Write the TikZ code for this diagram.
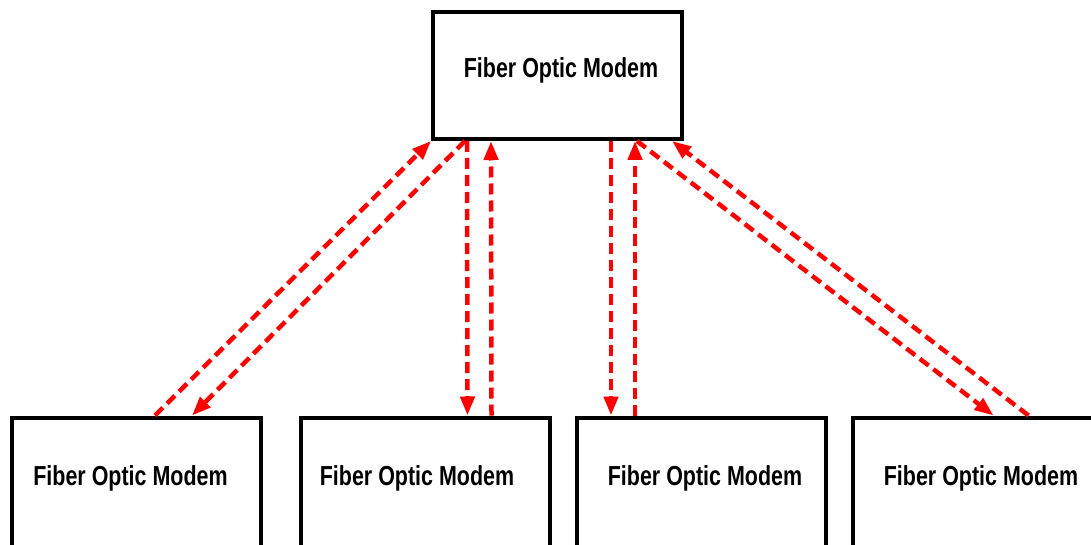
\documentclass[tikz,border=0pt]{standalone}
\usepackage{fontspec}
\newfontfamily\modemfont{Liberation Sans}[FakeStretch=0.78]
\usepackage{xcolor}
\usepackage{tikz}
\usetikzlibrary{positioning,arrows.meta}
\definecolor{clink}{RGB}{255,0,0}

\begin{document}
\begin{tikzpicture}[x=1pt,y=1pt,
  font=\modemfont\bfseries\fontsize{27.5pt}{30pt}\selectfont,
  box/.style={rectangle,draw=black,line width=4pt,minimum width=249pt},
  lbl/.style={inner sep=0pt},
  a/.style={-{Triangle[length=19pt,width=14pt]},clink,line width=4.5pt,dash pattern=on 11pt off 6pt},
]
\clip (0,0) rectangle (1091,-545);
% modems
\node[box,minimum height=127pt] (top) at (557.5,-75.5){};
\node[box,minimum height=200pt] (m1) at (136.5,-517.5){};
\node[box,minimum height=200pt] (m2) at (425,-517.5){};
\node[box,minimum height=200pt] (m3) at (701.5,-517.5){};
\node[box,minimum height=200pt] (m4) at (977,-517.5){};
\node[lbl,xshift=3.5pt,yshift=5pt] (ttop) at (top.center){Fiber Optic Modem};
\node[lbl,below=62.5pt of m1.north,xshift=-6pt,anchor=center] (t1){Fiber Optic Modem};
\node[lbl,below=62.5pt of m2.north,xshift=-8pt,anchor=center] (t2){Fiber Optic Modem};
\node[lbl,below=62.5pt of m3.north,xshift=3.5pt,anchor=center] (t3){Fiber Optic Modem};
\node[lbl,below=62.5pt of m4.north,xshift=4pt,anchor=center] (t4){Fiber Optic Modem};
% fibre pairs
\draw[a] ([xshift=145pt]m1.north west) -- (top.south west);
\draw[a] ([xshift=34pt]top.south west) -- ([xshift=182pt]m1.north west);
\draw[a] ([xshift=36pt]top.south west) -- ([xshift=169pt]m2.north west);
\draw[a] ([xshift=193pt]m2.north west) -- ([xshift=60pt]top.south west);
\draw[a] ([xshift=180pt]top.south west) -- ([xshift=36pt]m3.north west);
\draw[a] ([xshift=60pt]m3.north west) -- ([xshift=204pt]top.south west);
\draw[a] ([xshift=206pt]top.south west) -- ([xshift=143pt]m4.north west);
\draw[a] ([xshift=178pt]m4.north west) -- ([xshift=-12pt]top.south east);
\end{tikzpicture}
\end{document}
